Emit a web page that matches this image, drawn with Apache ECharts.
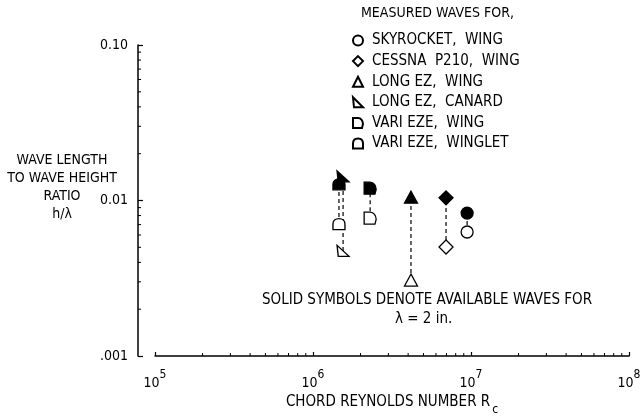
<!DOCTYPE html>
<html><head><meta charset="utf-8">
<script src="https://cdn.jsdelivr.net/npm/echarts@6/dist/echarts.min.js"></script>
<style>html,body{margin:0;padding:0;background:#fff}#c{width:640px;height:417px}</style>
</head><body><div id="c"></div>
<script>
const FONT = '"Liberation Sans Narrow","DejaVu Sans Condensed","Noto Sans",sans-serif';

// ---- data ----
const aircraft = ['SKYROCKET, WING', 'CESSNA P210, WING', 'LONG EZ, WING', 'LONG EZ, CANARD', 'VARI EZE, WING', 'VARI EZE, WINGLET'];
const legendLabels = ['SKYROCKET,  WING', 'CESSNA  P210,  WING', 'LONG EZ,  WING', 'LONG EZ,  CANARD', 'VARI EZE,  WING', 'VARI EZE,  WINGLET'];
const reynolds = [9.45e6, 6.95e6, 4.17e6, 1.55e6, 2.3e6, 1.46e6];
const measuredRatio = [0.00627, 0.00502, 0.00308, 0.00474, 0.0077, 0.00706];
const solidRatio = [0.0083, 0.0104, 0.0105, 0.0143, 0.0120, 0.0127];
const xTicks = [1e5, 1e6, 1e7, 1e8];
const xTickExponents = ['5', '6', '7', '8'];
const yTicks = [0.001, 0.01, 0.1];
const yTickLabels = ['.001', '0.01', '0.10'];
const minorMultipliers = [2, 3, 4, 5, 6, 7, 8, 9];

// ---- style ----
const symbols = [
  'circle',
  'diamond',
  'triangle',
  'path://M0,0 L1,10 L10,10 Z',
  'path://M0,0 L5,0 C8,0 10,3 10,6 L9,10 L0,10 Z',
  'path://M0,10 L0,5 C0,2 2,0 5,0 C8,0 10,2 10,5 L10,10 Z'
];
const symbolSizes = [12, 14, [13, 12], [12, 11], [12, 12], [12, 11]];
const Y_AXIS_OFFSET = 17;

function idxOf(arr, v) {
  return arr.findIndex(t => Math.abs(Math.log10(t / v)) < 1e-6);
}

const xMinor = [], yMinor = [];
for (let d = 0; d < xTicks.length - 1; d++) minorMultipliers.forEach(m => xMinor.push([xTicks[d] * m, yTicks[0]]));
for (let d = 0; d < yTicks.length - 1; d++) minorMultipliers.forEach(m => yMinor.push([xTicks[0], yTicks[d] * m]));

const series = [];
aircraft.forEach((name, i) => {
  series.push({
    type: 'line', silent: true, z: 1, symbol: 'none',
    lineStyle: { color: '#000', width: 1.2, type: [4, 3] },
    data: [[reynolds[i], measuredRatio[i]], [reynolds[i], solidRatio[i]]]
  });
});
aircraft.forEach((name, i) => {
  series.push({
    type: 'scatter', name: name, z: 3,
    symbol: symbols[i], symbolSize: symbolSizes[i],
    itemStyle: { color: '#fff', borderColor: '#000', borderWidth: 1.3, opacity: 1 },
    data: [
      { value: [reynolds[i], measuredRatio[i]] },
      { value: [reynolds[i], solidRatio[i]], itemStyle: { color: '#000' } }
    ]
  });
});
series.push({
  type: 'custom', silent: true, z: 2, data: xMinor,
  renderItem: (params, api) => {
    const p = api.coord([api.value(0), api.value(1)]);
    return { type: 'line', shape: { x1: p[0], y1: p[1], x2: p[0], y2: p[1] - 3 }, style: { stroke: '#000', lineWidth: 1 } };
  }
});
series.push({
  type: 'custom', silent: true, z: 2, data: yMinor,
  renderItem: (params, api) => {
    const p = api.coord([api.value(0), api.value(1)]);
    const x = p[0] - Y_AXIS_OFFSET;
    return { type: 'line', shape: { x1: x, y1: p[1], x2: x + 3, y2: p[1] }, style: { stroke: '#000', lineWidth: 1 } };
  }
});

const chart = echarts.init(document.getElementById('c'), null, { renderer: 'canvas' });
chart.setOption({
  animation: false,
  backgroundColor: '#fff',
  textStyle: { fontFamily: FONT, color: '#000' },
  grid: { left: 155, right: 11, top: 45, bottom: 61, containLabel: false, outerBoundsMode: 'none' },
  xAxis: {
    type: 'log', logBase: 10, min: xTicks[0], max: xTicks[xTicks.length - 1],
    axisLine: { lineStyle: { color: '#000', width: 1.5 } },
    axisTick: { inside: true, length: 4, lineStyle: { color: '#000', width: 1.2 } },
    splitLine: { show: false },
    axisLabel: {
      margin: 13, color: '#000',
      formatter: v => { const i = idxOf(xTicks, v); return i < 0 ? '' : '{b|10}{s|' + xTickExponents[i] + '}'; },
      rich: {
        b: { fontFamily: FONT, fontSize: 14, color: '#000', verticalAlign: 'bottom' },
        s: { fontFamily: FONT, fontSize: 12, color: '#000', verticalAlign: 'bottom', padding: [0, 0, 9, 0] }
      }
    },
    name: '{n|CHORD REYNOLDS NUMBER R}{c|c}',
    nameLocation: 'middle', nameGap: 37,
    nameTextStyle: {
      rich: {
        n: { fontFamily: FONT, fontSize: 15, color: '#000', verticalAlign: 'top' },
        c: { fontFamily: FONT, fontSize: 12, color: '#000', verticalAlign: 'top', padding: [9, 0, 0, 2] }
      }
    }
  },
  yAxis: {
    type: 'log', logBase: 10, min: yTicks[0], max: yTicks[yTicks.length - 1],
    offset: Y_AXIS_OFFSET,
    axisLine: { lineStyle: { color: '#000', width: 1.5 } },
    axisTick: { inside: true, length: 5, lineStyle: { color: '#000', width: 1.2 } },
    splitLine: { show: false },
    axisLabel: {
      margin: 10, color: '#000', fontFamily: FONT, fontSize: 14,
      formatter: v => { const i = idxOf(yTicks, v); return i < 0 ? '' : yTickLabels[i]; }
    }
  },
  legend: {
    orient: 'vertical', left: 347, top: 28, selectedMode: false,
    itemWidth: 10, itemHeight: 10, itemGap: 5.6,
    data: aircraft,
    formatter: n => legendLabels[aircraft.indexOf(n)],
    textStyle: { fontFamily: FONT, fontSize: 15, color: '#000', padding: [0, 0, 0, 4], lineHeight: 14 }
  },
  graphic: [
    { type: 'text', left: 361, top: 6, style: { text: 'MEASURED WAVES FOR,', font: '14px ' + FONT, fill: '#000' } },
    { type: 'text', left: 262, top: 293, style: { text: 'SOLID SYMBOLS DENOTE AVAILABLE WAVES FOR', font: '15px ' + FONT, fill: '#000' } },
    { type: 'text', left: 395, top: 312, style: { text: 'λ = 2 in.', font: '15px ' + FONT, fill: '#000' } },
    { type: 'text', x: 62, y: 187, style: { text: 'WAVE LENGTH\nTO WAVE HEIGHT\nRATIO\nh/λ', font: '14px ' + FONT, fill: '#000', align: 'center', verticalAlign: 'middle', lineHeight: 18 } }
  ],
  series: series
});
</script></body></html>
